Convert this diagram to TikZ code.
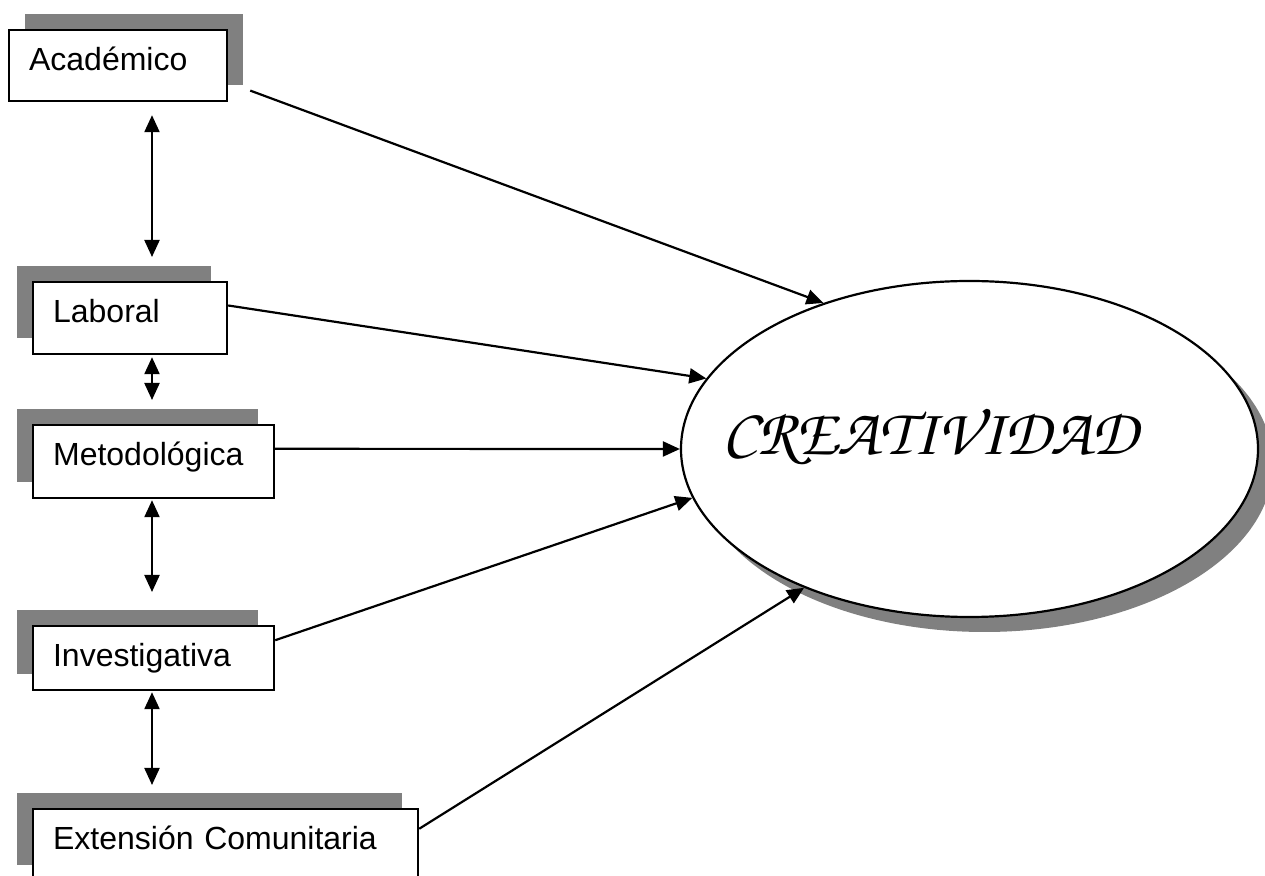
\documentclass[tikz,border=0pt]{standalone}
\usepackage[T1,TU]{fontenc}
\usepackage{fontspec}
\setmainfont{Liberation Sans}
\usetikzlibrary{arrows.meta,shapes.geometric,shadows,calc}
\newcommand\chancery{\fontencoding{T1}\fontfamily{pzc}\fontseries{mb}\fontshape{it}\selectfont}

\tikzset{
  box/.style={draw, line width=1.1pt, fill=white, anchor=north west, align=left,
    inner xsep=10pt, inner ysep=8.5pt, text height=11.5pt,
    font=\fontsize{16}{19}\selectfont},
  shadowleft/.style={drop shadow={shadow xshift=-8pt, shadow yshift=8pt, fill=gray, opacity=1}},
  shadowright/.style={drop shadow={shadow xshift=8pt, shadow yshift=8pt, fill=gray, opacity=1}},
  arr/.style={line width=1.1pt, -{Triangle[length=8.5pt,width=7.5pt]}},
  dbl/.style={line width=1.1pt, {Triangle[length=8.5pt,width=7.5pt]}-{Triangle[length=8.5pt,width=7.5pt]}}
}

\begin{document}
\begin{tikzpicture}[x=0.5pt,y=-0.5pt]
\useasboundingbox (0,0) rectangle (1265,876);
\clip (0,0) rectangle (1265,876);
% boxes
\node[box, shadowright, text width=89pt, text depth=7pt] (acad) at (8,29) {Académico};
\node[box, shadowleft, text width=77pt, text depth=7.5pt] (lab) at (32,281) {Laboral};
\node[box, shadowleft, text width=100.5pt, text depth=8pt] (met) at (32,424) {Metodológica};
\node[box, shadowleft, text width=100.5pt, text depth=3.5pt] (inv) at (32,625) {Investigativa};
\node[box, shadowleft, text width=172.5pt, text depth=7.5pt] (ext) at (32,808) {Extensión Comunitaria};
% ellipse
\node[ellipse, draw, line width=1.1pt, fill=white, minimum width=288.5pt, minimum height=168pt,
  inner sep=0pt, drop shadow={shadow xshift=7.5pt, shadow yshift=-7.5pt, fill=gray, opacity=1},
  label={[name=creatxt, xshift=-19.75pt, yshift=6pt, font=\chancery\fontsize{33}{40}\selectfont]center:CREATIVIDAD}]
  (crea) at (969.5,449) {};
% vertical links
\coordinate (col) at (152,0);
\draw[dbl, shorten <=6.5pt, shorten >=12pt] (acad.south -| col) -- (lab.north -| col);
\draw[dbl, shorten <=1pt, shorten >=12pt] (lab.south -| col) -- (met.north -| col);
\draw[dbl, shorten <=0.5pt, shorten >=16.5pt] (met.south -| col) -- (inv.north -| col);
\draw[dbl, shorten <=0.5pt, shorten >=11.5pt] (inv.south -| col) -- (ext.north -| col);
% links to the ellipse
\draw[arr, shorten <=11.75pt] ($(acad.north east)!0.73!(acad.south east)$) -- (crea.135);
\draw[arr] ($(lab.north east)!0.33!(lab.south east)$) -- (crea.165);
\draw[arr] ($(met.north east)!0.33!(met.south east)$) -- (crea.west);
\draw[arr] ($(inv.north east)!0.23!(inv.south east)$) -- (crea.190);
\draw[arr] ($(ext.north east)!0.28!(ext.south east)$) -- (crea.220);
\end{tikzpicture}
\end{document}
